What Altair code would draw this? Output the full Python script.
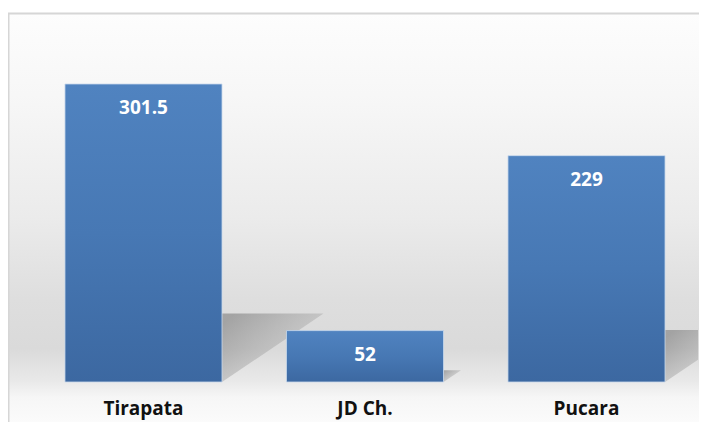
import altair as alt
import pandas as pd

categories = ["Tirapata", "JD Ch.", "Pucara"]
values = [301.5, 52, 229]
value_labels = ["301.5", "52", "229"]

W, H = 690, 409
XDOM = [-0.6117, 2.5034]
YDOM = [-40.47, 373.33]
HALF = 0.3545

bars = pd.DataFrame({
    "cat": categories,
    "idx": list(range(len(categories))),
    "val": values,
    "lab": value_labels,
})
bars["x0"] = bars["idx"] - HALF
bars["x1"] = bars["idx"] + HALF
bars["zero"] = 0.0

# shadow triangles derived from each bar's value
rows = []
for i, (c, v) in enumerate(zip(categories, values)):
    r = i + HALF
    sh = 0.23 * v
    sw = 0.00152 * v
    rows.append({"g": c, "sx": r, "top": sh, "bot": 0.0})
    rows.append({"g": c, "sx": r + sw, "top": sh, "bot": sh})
shadow = pd.DataFrame(rows)

xs = alt.Scale(domain=XDOM, nice=False, zero=False)
ys = alt.Scale(domain=YDOM, nice=False, zero=False)

one = pd.DataFrame({"a": [0]})

bg = alt.Chart(one).mark_rect(
    fill=alt.Gradient(
        gradient="linear", x1=0, x2=0, y1=0, y2=1,
        stops=[
            alt.GradientStop(color="#fdfdfd", offset=0),
            alt.GradientStop(color="#f7f7f7", offset=0.2),
            alt.GradientStop(color="#ebebeb", offset=0.5),
            alt.GradientStop(color="#dedede", offset=0.7),
            alt.GradientStop(color="#dadada", offset=0.82),
            alt.GradientStop(color="#e9e9e9", offset=0.9),
            alt.GradientStop(color="#f6f6f6", offset=0.94),
            alt.GradientStop(color="#fbfbfb", offset=1),
        ],
    )
).encode(x=alt.value(0), x2=alt.value(W + 1), y=alt.value(0), y2=alt.value(H))

border_top = alt.Chart(one).mark_rule(color="#d6d6d6", strokeWidth=2).encode(
    x=alt.value(0), x2=alt.value(W + 1), y=alt.value(0.5))
border_left = alt.Chart(one).mark_rule(color="#d6d6d6", strokeWidth=2).encode(
    x=alt.value(0.5), y=alt.value(0), y2=alt.value(H))

shadow_layer = alt.Chart(shadow).mark_area(
    clip=True,
    fill=alt.Gradient(
        gradient="linear", x1=0, y1=0.15, x2=1, y2=1,
        stops=[
            alt.GradientStop(color="rgba(125,125,125,0.6)", offset=0),
            alt.GradientStop(color="rgba(155,155,155,0.38)", offset=0.5),
            alt.GradientStop(color="rgba(200,200,200,0)", offset=1),
        ],
    ),
).encode(
    x=alt.X("sx:Q", scale=xs, axis=None),
    y=alt.Y("top:Q", scale=ys, axis=None),
    y2="bot:Q",
    detail="g:N",
)

bar_layer = alt.Chart(bars).mark_rect(
    fill=alt.Gradient(
        gradient="linear", x1=0, x2=0, y1=0, y2=1,
        stops=[
            alt.GradientStop(color="#5083c0", offset=0),
            alt.GradientStop(color="#4778b4", offset=0.5),
            alt.GradientStop(color="#3c68a1", offset=1),
        ],
    ),
    stroke="#c9d9ec", strokeWidth=1, strokeOpacity=0.8,
).encode(
    x=alt.X("x0:Q", scale=xs, axis=None),
    x2="x1:Q",
    y=alt.Y("val:Q", scale=ys, axis=None),
    y2="zero:Q",
)

val_text = alt.Chart(bars).mark_text(
    dy=24, color="white", fontWeight="bold", fontSize=19, font="Open Sans",
    baseline="middle", align="center",
).encode(
    x=alt.X("idx:Q", scale=xs, axis=None),
    y=alt.Y("val:Q", scale=ys, axis=None),
    text="lab:N",
)

cat_text = alt.Chart(bars).mark_text(
    color="#111111", fontWeight="bold", fontSize=19, font="Open Sans",
    baseline="middle", align="center",
).encode(
    x=alt.X("idx:Q", scale=xs, axis=None),
    y=alt.value(396),
    text="cat:N",
)

chart = alt.layer(bg, shadow_layer, bar_layer, val_text, cat_text, border_top, border_left).properties(
    width=W, height=H,
    autosize=alt.AutoSizeParams(type="none"),
    padding={"left": 0, "top": 5, "right": 1, "bottom": 0},
).configure_view(stroke=None)

chart.save("out.html", embed_options={"renderer": "svg", "actions": False})
